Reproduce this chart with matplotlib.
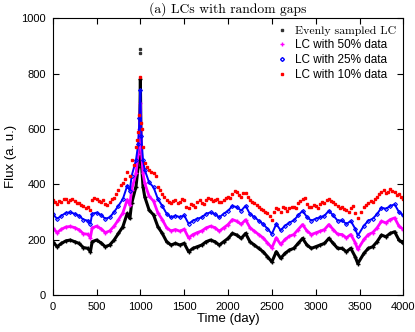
import matplotlib.pyplot as plt
from matplotlib.lines import Line2D

plt.rcParams['font.family'] = ['Liberation Sans', 'DejaVu Sans']

# time grid (day)
t = [0, 50, 100, 150, 200, 250, 300, 350, 400, 430, 450, 500, 550, 600, 650, 700,
     750, 800, 850, 880, 900, 950, 975, 990, 1000, 1010, 1030, 1050, 1100, 1150,
     1200, 1250, 1300, 1350, 1400, 1450, 1500, 1550, 1600, 1650, 1700, 1750, 1800,
     1850, 1900, 1950, 2000, 2050, 2100, 2150, 2200, 2250, 2300, 2350, 2400, 2450,
     2500, 2550, 2600, 2650, 2700, 2750, 2800, 2850, 2900, 2950, 3000, 3050, 3100,
     3150, 3200, 3250, 3300, 3350, 3400, 3450, 3480, 3550, 3600, 3650, 3700, 3750,
     3800, 3850, 3900, 3950, 4000]

even = [193, 175, 187, 196, 199, 193, 187, 172, 169, 157, 193, 199, 189, 175, 181, 199,
        223, 247, 295, 277, 331, 392, 464, 560, 780, 488, 392, 355, 307, 290,
        247, 223, 193, 181, 187, 181, 187, 157, 169, 175, 181, 193, 199,
        193, 181, 193, 205, 223, 217, 205, 223, 193, 181, 169, 157, 139,
        120, 157, 133, 151, 163, 169, 187, 205, 181, 169, 175, 181, 187,
        205, 187, 169, 169, 157, 169, 139, 114, 151, 169, 175, 193, 217,
        211, 223, 229, 199, 187]

half = [243, 226, 238, 246, 248, 244, 236, 222, 220, 208, 243, 249, 240, 226, 232, 249,
        272, 297, 345, 326, 380, 440, 510, 600, 693, 530, 440, 404, 357, 340,
        297, 273, 243, 232, 237, 231, 238, 207, 219, 226, 232, 243, 249,
        244, 231, 243, 255, 273, 267, 256, 272, 244, 231, 219, 207, 189,
        171, 207, 183, 201, 213, 219, 237, 255, 232, 219, 225, 231, 237,
        255, 237, 220, 219, 207, 219, 190, 165, 201, 219, 226, 243, 267,
        261, 273, 279, 249, 237]

quarter = [293, 276, 287, 297, 299, 294, 287, 273, 269, 258, 294, 298, 290, 276, 281, 300,
           323, 347, 395, 377, 430, 488, 545, 640, 741, 575, 488, 452, 407, 390,
           347, 322, 294, 281, 287, 282, 288, 258, 269, 276, 281, 294, 299,
           293, 281, 294, 305, 322, 318, 305, 323, 293, 282, 269, 257, 240,
           221, 257, 234, 251, 262, 270, 288, 305, 282, 269, 276, 281, 287,
           305, 288, 269, 270, 257, 268, 240, 215, 251, 269, 276, 293, 316,
           312, 322, 328, 300, 288]

tenth = [343, 328, 336, 346, 343, 340, 331, 322, 318, 308, 343, 346, 336, 330, 338, 352,
         378, 405, 445, 430, 488, 536, 590, 650, 789, 620, 536, 476, 452, 440,
         392, 367, 343, 331, 343, 337, 343, 313, 325, 337, 334, 344, 349,
         343, 335, 343, 355, 367, 373, 355, 370, 343, 331, 319, 307, 295,
         271, 313, 301, 313, 313, 320, 331, 346, 329, 320, 322, 329, 331,
         349, 337, 322, 319, 307, 313, 295, 277, 319, 331, 337, 355, 373,
         370, 382, 373, 367, 346]

# extra scattered points of the 10% curve, between the grid times
tenth_t2 = [25, 75, 125, 175, 225, 275, 325, 375, 475, 525, 575, 625, 675, 725,
            775, 825, 925, 960, 1020, 1075, 1125, 1175, 1225, 1275, 1325, 1375,
            1425, 1475, 1525, 1575, 1625, 1675, 1725, 1775, 1825, 1875, 1925, 1975,
            2025, 2075, 2125, 2175, 2225, 2275, 2325, 2375, 2425, 2475, 2525, 2575,
            2625, 2675, 2725, 2775, 2825, 2875, 2925, 2975, 3025, 3075, 3125, 3175,
            3225, 3275, 3325, 3375, 3425, 3515, 3575, 3625, 3675, 3725, 3775, 3825,
            3875, 3925, 3975]
tenth_f2 = [335, 340, 349, 338, 347, 333, 326, 316, 352, 340, 344, 326, 349, 365,
            398, 420, 470, 560, 600, 462, 445, 430, 380, 356, 338, 340,
            333, 348, 320, 330, 320, 345, 330, 352, 340, 348, 338, 350,
            352, 375, 360, 368, 355, 338, 326, 312, 300, 285, 300, 310,
            318, 305, 320, 314, 340, 352, 318, 326, 315, 336, 345, 340,
            330, 313, 311, 300, 322, 302, 325, 340, 348, 366, 380, 372,
            376, 362, 355]

# isolated top points of the evenly sampled curve
peak_t = [1000, 1000]
peak_f = [890, 873]

fig = plt.figure(figsize=(4.15, 3.32), dpi=100)
ax = fig.add_axes([0.127, 0.111, 0.845, 0.834])

ax.plot(t, even, '-', color='black', lw=2.2, marker='+', ms=3)
ax.plot(peak_t, peak_f, ls='none', marker='s', ms=1.4, color='#333333')
ax.plot(t, half, '-', color='magenta', lw=2.0, marker='+', ms=3)
ax.plot(t, quarter, '-', color='blue', lw=1.4, marker='D', ms=2, mfc='none', mew=0.8)
ax.plot(t, tenth, ls='none', color='red', marker='s', ms=1.7)
ax.plot(tenth_t2, tenth_f2, ls='none', color='red', marker='s', ms=1.7)

ax.set_xlim(0, 4000)
ax.set_ylim(0, 1000)
ax.set_xticks(range(0, 4001, 500))
ax.set_yticks(range(0, 1001, 200))
ax.tick_params(direction='in', top=True, right=True, length=4, labelsize=8, pad=5)
ax.set_xlabel('Time (day)', fontsize=9.5, labelpad=1)
ax.set_ylabel('Flux (a. u.)', fontsize=9.5, labelpad=3)
ax.set_title('(a) LCs with random gaps', fontsize=9.8, family='cmr10', pad=4)

handles = [
    Line2D([], [], ls='none', marker='s', ms=1.5, color='#333333'),
    Line2D([], [], ls='none', marker='+', ms=3, color='magenta'),
    Line2D([], [], ls='none', marker='D', ms=2, mfc='none', color='blue'),
    Line2D([], [], ls='none', marker='s', ms=1.8, color='red'),
]
labels = ['Evenly sampled LC', 'LC with 50% data', 'LC with 25% data', 'LC with 10% data']
leg = ax.legend(handles, labels, loc='upper left', bbox_to_anchor=(0.627, 0.99),
                frameon=False, fontsize=8.5, handlelength=0.8, handletextpad=0.7,
                labelspacing=0.25, borderaxespad=0)
leg.get_texts()[0].set_family('cmr10')

fig.savefig('out.png', dpi=100)
